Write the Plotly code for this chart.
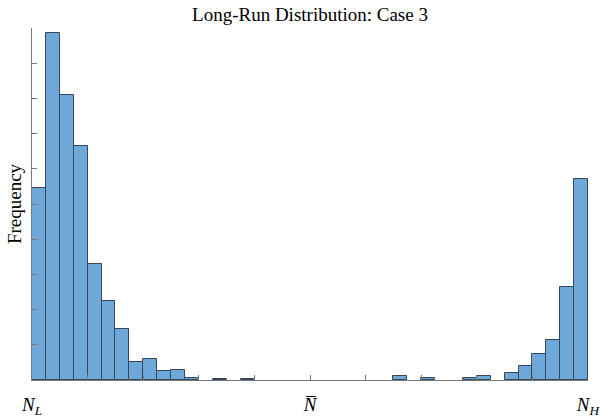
import plotly.graph_objects as go

# 40 equal-width bins between N_L and N_H (bin index 0..39)
bin_index = list(range(40))
counts = [545, 986, 810, 665, 330, 224, 145, 51, 60, 26,
          29, 6, 0, 4, 0, 4, 0, 0, 0, 0,
          0, 0, 0, 0, 0, 0, 11, 0, 6, 0,
          0, 6, 11, 0, 20, 40, 74, 114, 264, 571]
tick_positions = [0, 4, 8, 12, 16, 20, 24, 28, 32, 36, 40]
tick_labels = ["<i>N</i><sub><i>L</i></sub>", "", "", "", "",
               "<i>N&#773;</i>", "", "", "", "",
               "<i>N</i><sub><i>H</i></sub>"]

centers = [i + 0.5 for i in bin_index]
yvals = [c if c > 0 else None for c in counts]

fig = go.Figure(go.Bar(
    x=centers, y=yvals, width=1.0,
    marker=dict(color="rgb(110,168,217)",
                line=dict(color="rgb(55,70,90)", width=1)),
))

serif = "Liberation Serif, Times New Roman, serif"
fig.update_layout(
    width=602, height=419,
    margin=dict(l=32, r=14, t=28, b=39, autoexpand=False),
    paper_bgcolor="white", plot_bgcolor="white",
    showlegend=False, bargap=0,
    font=dict(family=serif, size=19, color="black"),
    title=dict(text="Long-Run Distribution: Case 3", x=0.5, xref="paper",
               y=0.966, yref="container", xanchor="center", yanchor="middle",
               font=dict(family=serif, size=19, color="black")),
)
fig.update_xaxes(
    range=[0, 40], tickmode="array", tickvals=tick_positions, ticktext=tick_labels,
    ticks="inside", ticklen=5, tickcolor="rgb(120,120,120)", tickwidth=1,
    showline=True, linecolor="rgb(120,120,120)", linewidth=1,
    showgrid=False, zeroline=False, ticklabelstandoff=7, automargin=False,
    tickfont=dict(family=serif, size=19, color="black"),
)
fig.update_yaxes(
    range=[0, 1000], dtick=100, showticklabels=False,
    ticks="inside", ticklen=5, tickcolor="rgb(120,120,120)", tickwidth=1,
    showline=True, linecolor="rgb(120,120,120)", linewidth=1,
    showgrid=False, zeroline=False, automargin=False,
    title=dict(text="Frequency", standoff=4, font=dict(family=serif, size=19, color="black")),
)

fig.write_html("out.html", config={"displayModeBar": False},
               post_script="document.body.style.margin='0';")
